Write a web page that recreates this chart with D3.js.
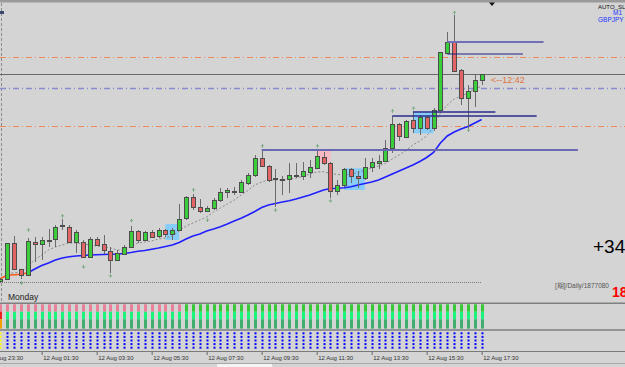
<!DOCTYPE html>
<html><head><meta charset="utf-8">
<script src="https://cdn.jsdelivr.net/npm/d3@7"></script>
<style>
html,body{margin:0;padding:0;background:#d4d4d4;overflow:hidden;}
svg{display:block;}
text{font-family:"Liberation Sans",Arial,sans-serif;}
</style></head><body>
<svg id="c" width="625" height="367"></svg>
<script>
// ---- DATA (GBPJPY M15, 12 Aug) ----
const opens=[189.190,189.207,189.567,189.307,189.247,189.583,189.560,189.600,189.607,189.747,189.733,189.577,189.583,189.427,189.607,189.557,189.493,189.400,189.460,189.533,189.687,189.600,189.677,189.640,189.700,189.660,189.700,189.817,190.033,189.927,189.893,189.917,190.000,190.077,190.093,190.083,190.167,190.250,190.417,190.340,190.210,190.210,190.207,190.253,190.243,190.283,190.323,190.427,190.367,190.093,190.150,190.307,190.243,190.217,190.333,190.373,190.393,190.517,190.757,190.633,190.800,190.723,190.827,190.723,190.900,191.473,191.577,191.300,191.023,191.093,191.200];
const highs=[189.220,189.575,189.640,189.315,189.620,189.633,189.633,189.710,189.750,189.807,189.750,189.700,189.600,189.630,189.630,189.650,189.530,189.500,189.550,189.740,189.700,189.690,189.700,189.720,189.710,189.720,189.960,190.040,190.060,190.010,189.940,190.020,190.117,190.123,190.133,190.200,190.267,190.450,190.500,190.350,190.307,190.240,190.373,190.367,190.383,190.400,190.500,190.483,190.383,190.200,190.317,190.317,190.293,190.417,190.417,190.450,190.600,190.843,190.770,190.800,190.877,190.850,190.840,190.920,191.480,191.683,191.850,191.310,191.150,191.250,191.260];
const lows=[189.170,189.200,189.300,189.207,189.240,189.383,189.400,189.530,189.533,189.700,189.567,189.467,189.420,189.420,189.540,189.460,189.267,189.393,189.453,189.530,189.570,189.590,189.620,189.620,189.630,189.600,189.690,189.800,189.900,189.870,189.880,189.900,189.983,190.017,190.050,190.067,190.150,190.233,190.330,190.180,189.933,190.050,190.067,190.220,190.200,190.217,190.320,190.350,190.017,190.050,190.133,190.167,190.117,190.200,190.283,190.307,190.383,190.467,190.590,190.630,190.670,190.650,190.700,190.690,190.890,191.467,191.283,190.950,190.710,190.933,191.150];
const closes=[189.210,189.567,189.307,189.253,189.590,189.560,189.600,189.600,189.733,189.747,189.577,189.677,189.427,189.607,189.550,189.500,189.400,189.467,189.527,189.690,189.600,189.680,189.633,189.700,189.657,189.700,189.813,190.027,189.927,189.893,189.917,190.000,190.077,190.100,190.093,190.177,190.250,190.417,190.340,190.200,190.217,190.210,190.250,190.253,190.290,190.327,190.440,190.367,190.093,190.147,190.307,190.243,190.217,190.333,190.377,190.393,190.517,190.757,190.643,190.790,190.723,190.827,190.723,190.900,191.477,191.577,191.293,191.023,191.090,191.200,191.257];
const fastMA=[null,189.27,189.27,189.28,189.34,189.40,189.45,189.50,189.53,189.55,189.57,189.57,189.56,189.55,189.54,189.53,189.52,189.50,189.50,189.54,189.57,189.58,189.59,189.61,189.62,189.64,189.69,189.74,189.77,189.80,189.83,189.88,189.92,189.96,190.00,190.05,190.095,190.15,190.18,190.20,190.20,190.20,190.21,190.22,190.235,190.26,190.28,190.283,190.265,190.255,190.25,190.26,190.275,190.30,190.32,190.34,190.365,190.41,190.45,190.495,190.55,190.59,190.64,190.73,190.87,190.95,191.01,191.04,191.07,191.11,191.14];
const slowMA=[189.215,189.247,189.253,189.258,189.273,189.31,189.345,189.37,189.40,189.42,189.432,189.44,189.445,189.45,189.453,189.455,189.457,189.46,189.465,189.475,189.487,189.495,189.507,189.52,189.535,189.55,189.575,189.61,189.64,189.66,189.69,189.71,189.733,189.76,189.79,189.817,189.85,189.885,189.925,189.95,189.965,189.98,189.992,190.01,190.03,190.05,190.075,190.10,190.115,190.117,190.123,190.132,190.15,190.165,190.18,190.20,190.23,190.26,190.29,190.32,190.35,190.385,190.425,190.475,190.57,190.64,190.68,190.71,190.735,190.77,190.805];
const slowMAFalling=[1,1,1,1,1]; // first bars drawn in the down-trend colour
const orangeLevels=[191.433,190.737];
const bidPrice=191.257;
const pivotPrice=191.117;
const bottomLinePrice=189.183;
const levelStart=[38,57,60,65,65];
const levelEnd=[84,78,72,79,76];
const levelPrice=[190.500,190.843,190.877,191.583,191.460];
const zoneStart=[24,50,60,46];
const zoneEnd=[26,53,63,48];
const zoneTop=[189.760,190.317,190.877,190.493];
const zoneBottom=[189.600,190.100,190.667,190.373];
const zoneKind=["buy","buy","buy","sell"];
const fractalUpIdx=[4,9,19,28,38,46,57,60,66];
const fractalUpPrice=[189.700,189.840,189.793,190.100,190.540,190.540,190.890,190.917,191.873];
const fractalDnIdx=[3,12,16,30,40,48,68];
const fractalDnPrice=[189.170,189.333,189.243,189.800,189.900,189.993,190.700];
const trendState=[0,0,0,0,0,0,0,0,0,0,0,0,0,0,0,0,0,0,0,0,0,0,0,0,0,0,0,1,1,1,1,1,1,1,1,1,1,1,1,1,1,1,1,1,1,1,1,1,1,1,1,1,1,1,1,1,1,1,1,1,1,1,1,1,1,1,1,1,1,1,1];
const signalState=[0,1,1,1,1,1,1,1,1,1,1,1,1,1,1,1,1,1,1,1,1,1,1,1,1,1,1,1,1,1,1,1,1,1,1,1,1,1,1,1,1,1,1,1,1,1,1,1,1,1,1,1,1,1,1,1,1,1,1,1,1,1,1,1,1,1,1,1,1,1,1];
const tickIdx=[-2,6,14,22,30,38,46,54,62,70];
const tickLabels=["11 Aug 23:30","12 Aug 01:30","12 Aug 03:30","12 Aug 05:30","12 Aug 07:30","12 Aug 09:30","12 Aug 11:30","12 Aug 13:30","12 Aug 15:30","12 Aug 17:30"];

// ---- DRAW ----
const svg=d3.select("#c");
const W=625;
const x=d3.scaleLinear().domain([0,70]).range([0.4,481.65]);
const y=d3.scaleLinear().domain([192,189]).range([0,300]);
const px=i=>Math.round(x(i));
const py=p=>Math.round(y(p));

svg.append("rect").attr("width",W).attr("height",367).attr("fill","#d4d4d4");
svg.append("rect").attr("width",W).attr("height",2.5).attr("fill","#9a9a9a");
svg.append("line").attr("x1",1.5).attr("x2",1.5).attr("y1",3).attr("y2",302)
  .attr("stroke","#8c8c8c").attr("stroke-dasharray","3,2");
svg.append("rect").attr("x",0).attr("y",11).attr("width",4).attr("height",3).attr("fill","#3a4a6a");

// full-width horizontal lines
const main=svg.append("g");
main.selectAll("line.or").data(orangeLevels).join("line").attr("class","or")
  .attr("x1",0).attr("x2",W).attr("y1",d=>py(d)+0.5).attr("y2",d=>py(d)+0.5)
  .attr("stroke","#f08a5d").attr("stroke-dasharray","6,3,1,3");
main.append("line").attr("x1",0).attr("x2",W).attr("y1",py(bidPrice)+0.5).attr("y2",py(bidPrice)+0.5)
  .attr("stroke","#686868");
main.append("line").attr("x1",0).attr("x2",W).attr("y1",py(pivotPrice)+0.5).attr("y2",py(pivotPrice)+0.5)
  .attr("stroke","#8a8ad0").attr("stroke-width",1.5).attr("stroke-dasharray","6,3,1,3");
main.append("line").attr("x1",0).attr("x2",x(70)).attr("y1",py(bottomLinePrice)+0.5).attr("y2",py(bottomLinePrice)+0.5)
  .attr("stroke","#7a7a7a").attr("stroke-dasharray","1,1");

// zones
main.selectAll("rect.zone").data(d3.range(zoneStart.length)).join("rect").attr("class","zone")
  .attr("x",k=>x(zoneStart[k])).attr("width",k=>x(zoneEnd[k])-x(zoneStart[k]))
  .attr("y",k=>y(zoneTop[k])).attr("height",k=>y(zoneBottom[k])-y(zoneTop[k]))
  .attr("fill",k=>zoneKind[k]==="buy"?"#87cdf7":"#f8b8c4");

// moving averages
const idx=d3.range(opens.length);
main.append("path").datum(idx.filter(i=>fastMA[i]!=null))
  .attr("d",d3.line().x(i=>x(i)).y(i=>y(fastMA[i])))
  .attr("fill","none").attr("stroke","#8a8a8a").attr("stroke-dasharray","2,2");
const nOr=slowMAFalling.length;
main.append("path").datum(idx.filter(i=>i>=nOr-1))
  .attr("d",d3.line().x(i=>x(i)).y(i=>y(slowMA[i])))
  .attr("fill","none").attr("stroke","#1f1fff").attr("stroke-width",1.6);
main.append("path").datum(idx.filter(i=>i<nOr))
  .attr("d",d3.line().x(i=>x(i)).y(i=>y(slowMA[i])))
  .attr("fill","none").attr("stroke","#ff5a14").attr("stroke-width",1.6);

// candles
const gC=main.append("g");
gC.selectAll("line").data(idx).join("line")
  .attr("x1",i=>px(i)+0.5).attr("x2",i=>px(i)+0.5)
  .attr("y1",i=>py(highs[i])).attr("y2",i=>py(lows[i]))
  .attr("stroke","#6a6a6a");
gC.selectAll("rect").data(idx).join("rect")
  .attr("x",i=>px(i)-1.5).attr("width",4)
  .attr("y",i=>py(Math.max(opens[i],closes[i]))+0.5)
  .attr("height",i=>Math.max(1,py(Math.min(opens[i],closes[i]))-py(Math.max(opens[i],closes[i]))))
  .attr("fill",i=>closes[i]>=opens[i]?"#3acf3a":"#e46464")
  .attr("stroke","#4d4d4d");

// levels
const levelColor=["#6a6ab4","#2b2b8c","#2b2b8c","#7070b8","#202080"];
const levelWidth=[2,1.5,1.5,2,1.2];
main.selectAll("line.lv").data(d3.range(levelPrice.length)).join("line").attr("class","lv")
  .attr("x1",k=>x(levelStart[k])).attr("x2",k=>x(levelEnd[k]))
  .attr("y1",k=>py(levelPrice[k])).attr("y2",k=>py(levelPrice[k]))
  .attr("stroke",k=>levelColor[k]).attr("stroke-width",k=>levelWidth[k]);

// fractal arrows (small, faint)
main.selectAll("path.fu").data(d3.range(fractalUpIdx.length)).join("path").attr("class","fu")
  .attr("transform",k=>`translate(${px(fractalUpIdx[k])+0.5},${y(fractalUpPrice[k])})`)
  .attr("d","M-1.5,0.5 L0,-1.5 L1.5,0.5 M0,-1.5 L0,2").attr("fill","none")
  .attr("stroke","#5f9f6c").attr("stroke-width",0.8).attr("opacity",0.85);
main.selectAll("path.fd").data(d3.range(fractalDnIdx.length)).join("path").attr("class","fd")
  .attr("transform",k=>`translate(${px(fractalDnIdx[k])+0.5},${y(fractalDnPrice[k])})`)
  .attr("d","M-1.5,-0.5 L0,1.5 L1.5,-0.5 M0,1.5 L0,-2").attr("fill","none")
  .attr("stroke","#5f9f6c").attr("stroke-width",0.8).attr("opacity",0.85);

// texts in main window
svg.append("path").attr("d","M489,2.5 L495,2.5 L492,6 Z").attr("fill","#111");
svg.append("text").attr("x",491).attr("y",83).attr("font-family","DejaVu Sans").attr("font-size",9)
  .attr("fill","#e0743c").text("<--12:42");
svg.append("text").attr("x",598).attr("y",9).attr("font-size",6).attr("fill","#111").text("AUTO_SL");
svg.append("text").attr("x",613).attr("y",15).attr("font-size",6.5).attr("fill","#2233ff").text("M1");
svg.append("text").attr("x",598).attr("y",22).attr("font-size",6.5).attr("fill","#2233ff").text("GBPJPY");
svg.append("text").attr("x",593).attr("y",253).attr("font-size",19).attr("fill","#000").text("+34");
svg.append("text").attr("x",555).attr("y",288).attr("font-size",6.5).attr("fill","#555").text("[期]/Daily/1877080");
svg.append("text").attr("x",612).attr("y",297).attr("font-size",14).attr("font-weight","bold").attr("fill","#ff0000").text("18");
svg.append("text").attr("x",8).attr("y",299.5).attr("font-size",8.5).attr("fill","#222").text("Monday");

// separators
svg.append("line").attr("x1",0).attr("x2",W).attr("y1",303.3).attr("y2",303.3).attr("stroke","#7f7f7f").attr("stroke-width",1.6);
svg.append("line").attr("x1",0).attr("x2",W).attr("y1",330).attr("y2",330).attr("stroke","#7f7f7f").attr("stroke-width",1.6);

// sub-window 1: state columns
const sub1=svg.append("g");
const rows=[[304.3,311.7],[311.7,319.3],[319.3,328.6]];
rows.forEach((r,ri)=>{
  sub1.selectAll("rect.r"+ri).data(idx).join("rect").attr("class","r"+ri)
    .attr("x",i=>px(i)-1).attr("width",3).attr("y",r[0]).attr("height",r[1]-r[0])
    .attr("fill",i=>{
      if(ri===0) return trendState[i]?"#36c936":"#e8809a";
      if(ri===1) return signalState[i]?"#18f57a":"#ee2020";
      return signalState[i]?"#3fae6f":"#f5a000";
    });
});
// sub-window 2: dots
const sub2=svg.append("g");
[333.3,336.9,340.5,344.1,347.7].forEach((ry,k)=>{
  sub2.selectAll("rect.d"+k).data(idx).join("rect").attr("class","d"+k)
    .attr("x",i=>px(i)-0.5).attr("width",2).attr("y",ry-1).attr("height",2)
    .attr("fill",i=>signalState[i]?"#0000ff":"#ffff00");
});

// time axis
svg.append("line").attr("x1",0).attr("x2",W).attr("y1",351.5).attr("y2",351.5).attr("stroke","#7a7a7a");
const axis=d3.axisBottom(x).tickValues(tickIdx).tickFormat((d,i)=>tickLabels[i]).tickSize(3).tickSizeOuter(0);
const gA=svg.append("g").attr("transform","translate(0,352)").call(axis);
gA.select(".domain").remove();
gA.attr("font-size",6).attr("font-family","Liberation Sans, Arial, sans-serif");
gA.selectAll(".tick line").attr("stroke","#666");
gA.selectAll(".tick text").attr("text-anchor","start").attr("x",1).attr("y",8.3).attr("dy",0).attr("fill","#333");

// bottom tab strip
svg.append("line").attr("x1",0).attr("x2",W).attr("y1",363.5).attr("y2",363.5).attr("stroke","#a8a8a8");
svg.append("rect").attr("x",217).attr("y",364).attr("width",55).attr("height",3).attr("fill","#f4f4f4");
</script>
</body></html>
